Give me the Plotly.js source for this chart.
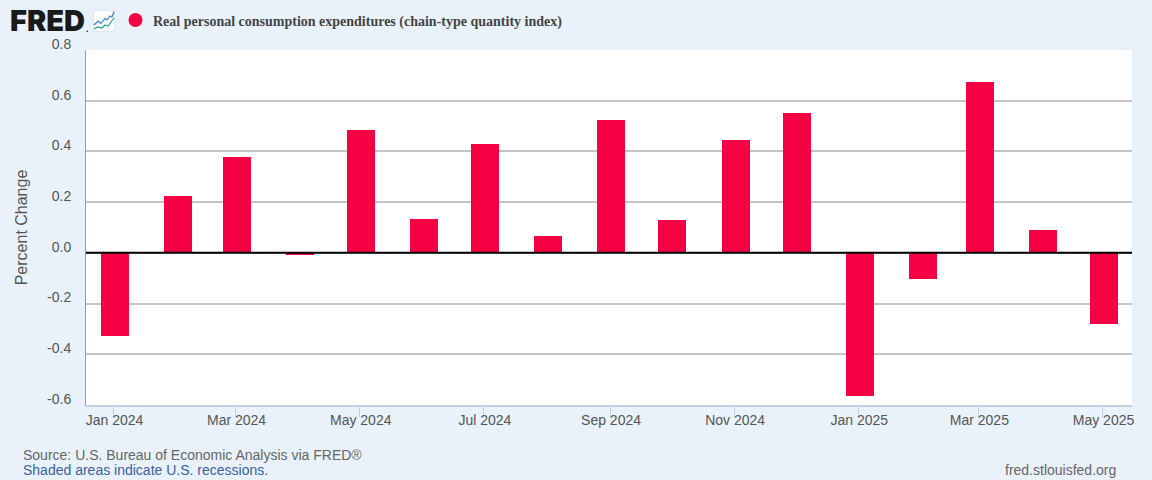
<!DOCTYPE html>
<html>
<head>
<meta charset="utf-8">
<script src="https://cdn.plot.ly/plotly-3.0.1.min.js"></script>
<style>html,body{margin:0;padding:0;background:#e9f2fa;overflow:hidden}#chart{width:1152px;height:480px}</style>
</head>
<body>
<div id="chart"></div>
<script>
const months = ["2024-01-01","2024-02-01","2024-03-01","2024-04-01","2024-05-01","2024-06-01","2024-07-01","2024-08-01","2024-09-01","2024-10-01","2024-11-01","2024-12-01","2025-01-01","2025-02-01","2025-03-01","2025-04-01","2025-05-01"];
const percentChange = [-0.328,0.224,0.378,-0.008,0.4845,0.1335,0.429,0.0665,0.524,0.1295,0.445,0.5516,-0.5645,-0.103,0.674,0.090,-0.2806];
const xTickVals = ["2024-01-01","2024-03-01","2024-05-01","2024-07-01","2024-09-01","2024-11-01","2025-01-01","2025-03-01","2025-05-01"];
const xTickText = ["Jan 2024","Mar 2024","May 2024","Jul 2024","Sep 2024","Nov 2024","Jan 2025","Mar 2025","May 2025"];
const yTickVals = [0.8,0.6,0.4,0.2,0,-0.2,-0.4,-0.6];
const yTickText = ["0.8","0.6","0.4","0.2","0.0","-0.2","-0.4","-0.6"];
const seriesName = "Real personal consumption expenditures (chain-type quantity index)";
const W = 1152, H = 480, L = 86, R = 1132, T = 50, B = 405;
const px = x => (x - L) / (R - L);
const py = y => (B - y) / (B - T);
const DAY = 86400000;
const barDays = 13.76, barShift = 0.66;
const logo = "data:image/svg+xml;utf8," + encodeURIComponent('<svg xmlns="http://www.w3.org/2000/svg" width="22" height="22" viewBox="0 0 22 22"><rect x="0.5" y="0.5" width="21" height="21" rx="1.5" fill="#fff" stroke="#dfe6ee"/><polyline points="1,15 5,11 8,13.500 12,8.500 14,10 17,6 19,7 21,1.500" fill="none" stroke="#2f7fd8" stroke-width="1.200"/><polyline points="1,19 5,17 9,18 12,15 15,16 18,12 21,8" fill="none" stroke="#2aa08a" stroke-width="1.200"/></svg>');
const font = "Liberation Sans, Arial, sans-serif";
const note = (text, x, y, size, color, extra) => Object.assign({xref:"paper", yref:"paper", x:px(x), y:py(y), text, showarrow:false, xanchor:"left", yanchor:"middle", font:{family:font, size, color}}, extra||{});
const data = [{
  type:"bar", x:months, y:percentChange, name:seriesName,
  width:barDays*DAY, offset:(barShift-barDays/2)*DAY,
  marker:{color:"#f40043", line:{width:0}}, showlegend:false, hoverinfo:"x+y"
}];
const layout = {
  width:W, height:H, autosize:false,
  margin:{l:L, r:W-R, t:T, b:H-B, pad:0},
  paper_bgcolor:"#e9f2fa", plot_bgcolor:"#ffffff",
  font:{family:font, size:14, color:"#555555"},
  showlegend:false, bargap:0,
  xaxis:{type:"date", range:[new Date(Date.UTC(2024,0,1)-13.5*DAY).toISOString(), new Date(Date.UTC(2025,4,1)+14.5*DAY).toISOString()],
    tickmode:"array", tickvals:xTickVals, ticktext:xTickText, ticks:"outside", ticklen:10, tickwidth:1, tickcolor:"#c0d0e0",
    ticklabelstandoff:-9, ticklabelshift:1,
    showgrid:false, zeroline:false, showline:true, linecolor:"#c0d0e0", linewidth:2, tickfont:{size:14, color:"#555555"}, fixedrange:true},
  yaxis:{range:[-0.6,0.8], tickmode:"array", tickvals:yTickVals, ticktext:yTickText, ticks:"", ticklen:0,
    ticklabelposition:"outside", ticklabelstandoff:11, ticklabelshift:-6,
    showgrid:true, gridcolor:"#c4c4c4", gridwidth:2, zeroline:false, showline:true, linecolor:"#999999", linewidth:1,
    tickfont:{size:14, color:"#555555"}, fixedrange:true,
    title:{text:"Percent Change", font:{size:16, color:"#555555"}, standoff:15}},
  shapes:[
    {type:"line", xref:"paper", x0:0, x1:1, yref:"y", y0:0, y1:0, line:{color:"#000000", width:2}, layer:"above"},
    {type:"circle", xref:"paper", yref:"paper", x0:px(128.5), x1:px(142.5), y0:py(13), y1:py(27), fillcolor:"#f40043", line:{width:0}, layer:"above"},
    {type:"circle", xref:"paper", yref:"paper", x0:px(86.5), x1:px(88), y0:py(30.5), y1:py(32), fillcolor:"#1a1a1a", line:{width:0}, layer:"above"}
  ],
  images:[{source:logo, xref:"paper", yref:"paper", x:px(93), y:py(10), sizex:22/(R-L), sizey:22/(B-T), xanchor:"left", yanchor:"top", sizing:"stretch", layer:"above"}],
  annotations:[
    note("FRED", 8, 20.5, 29, "#1a1a1a", {font:{family:"Inter, sans-serif", size:29, color:"#1a1a1a", weight:900}}),
    note("<b>"+seriesName+"</b>", 151, 22, 14, "#444444", {font:{family:"Liberation Serif, Times New Roman, serif", size:14, color:"#444444"}}),
    note("Source: U.S. Bureau of Economic Analysis via FRED®", 21, 455, 14, "#666666"),
    note("Shaded areas indicate U.S. recessions.", 21, 470, 14, "#3a5f9e"),
    note("fred.stlouisfed.org", 1003, 470, 14, "#666666")
  ]
};
Plotly.newPlot("chart", data, layout, {displayModeBar:false, staticPlot:true});
</script>
</body>
</html>
